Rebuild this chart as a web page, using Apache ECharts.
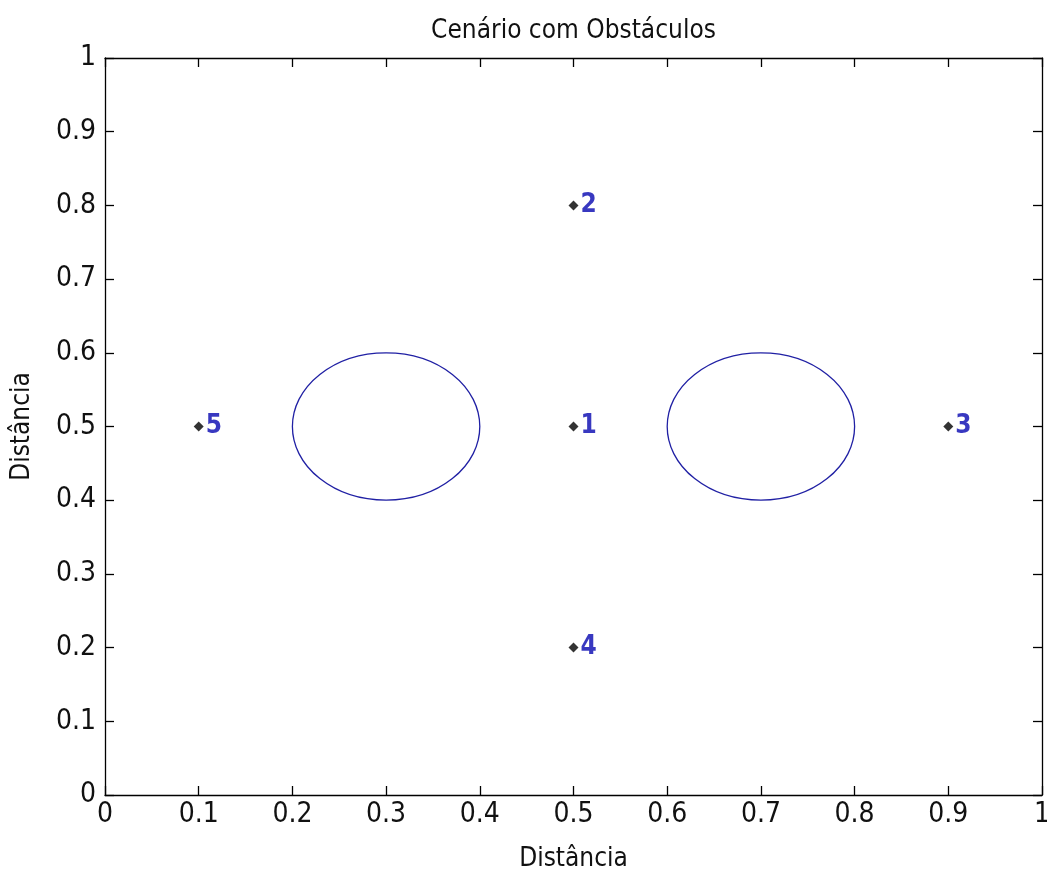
<!DOCTYPE html>
<html>
<head>
<meta charset="utf-8">
<script src="https://cdn.jsdelivr.net/npm/echarts@6/dist/echarts.min.js"></script>
<style>
  html, body { margin: 0; padding: 0; background: #ffffff; }
  #chart { width: 1047px; height: 870px; }
</style>
</head>
<body>
<div id="chart"></div>
<script>
// Waypoints (x, y) and their numeric labels
const pointX = [0.5, 0.5, 0.9, 0.5, 0.1];
const pointY = [0.5, 0.8, 0.5, 0.2, 0.5];
const pointLabels = ['1', '2', '3', '4', '5'];

// Circular obstacles: centre and radius in data units
const obstacleX = [0.3, 0.7];
const obstacleY = [0.5, 0.5];
const obstacleR = [0.1, 0.1];

const tickValues = [0, 0.1, 0.2, 0.3, 0.4, 0.5, 0.6, 0.7, 0.8, 0.9, 1];

const FONT = '"Liberation Sans Narrow", "DejaVu Sans Condensed", "Liberation Sans"';
const LABEL_BLUE = '#0606b0';
const LINE_BLUE = '#2020a4';

const GRID = { left: 105, right: 5, top: 58, bottom: 75 };
const CANVAS_W = 1047;
// horizontal centre of the plot area, used to centre the title over the axes
const plotCentreX = GRID.left + (CANVAS_W - GRID.left - GRID.right) / 2;

const points = pointX.map((x, i) => [x, pointY[i], pointLabels[i]]);
const obstacles = obstacleX.map((x, i) => [x, obstacleY[i], obstacleR[i]]);

function fmt(v) { return v === 0 ? '0' : v === 1 ? '1' : String(v); }

const baseAxis = {
  min: 0, max: 1, interval: 0.1,
  axisLine: { show: true, onZero: false, lineStyle: { color: '#000', width: 1.3 } },
  axisTick: { show: true, inside: true, length: 9, lineStyle: { color: '#000', width: 1.3 } },
  splitLine: { show: false },
  axisLabel: { color: '#111', fontFamily: FONT, fontSize: 28, formatter: fmt }
};

const chart = echarts.init(document.getElementById('chart'), null, { renderer: 'canvas' });

chart.setOption({
  backgroundColor: '#ffffff',
  animation: false,
  title: {
    text: 'Cenário com Obstáculos',
    left: plotCentreX, top: 18,
    textAlign: 'center',
    padding: 0,
    textStyle: { fontFamily: FONT, fontSize: 26, fontWeight: 'normal', color: '#111' }
  },
  grid: Object.assign({}, GRID, { containLabel: false, outerBoundsMode: 'none' }),
  xAxis: [
    Object.assign({}, baseAxis, {
      type: 'value', position: 'bottom',
      name: 'Distância', nameLocation: 'middle', nameGap: 51,
      nameTextStyle: { fontFamily: FONT, fontSize: 26, color: '#111' },
      axisLabel: Object.assign({}, baseAxis.axisLabel, { margin: 6 })
    }),
    Object.assign({}, baseAxis, {
      type: 'value', position: 'top',
      axisLabel: { show: false }
    })
  ],
  yAxis: [
    Object.assign({}, baseAxis, {
      type: 'value', position: 'left',
      name: 'Distância', nameLocation: 'middle', nameGap: 70,
      nameTextStyle: { fontFamily: FONT, fontSize: 26, color: '#111' },
      axisLabel: Object.assign({}, baseAxis.axisLabel, { margin: 9 })
    }),
    Object.assign({}, baseAxis, {
      type: 'value', position: 'right',
      axisLabel: { show: false }
    })
  ],
  series: [
    {
      type: 'custom',
      xAxisIndex: 0, yAxisIndex: 0,
      data: obstacles,
      renderItem: function (params, api) {
        const c = api.coord([api.value(0), api.value(1)]);
        const r = api.value(2);
        const s = api.size([r, r]);
        const rx = s[0], ry = s[1];
        const d = 'M ' + (c[0] - rx) + ' ' + c[1] +
          ' A ' + rx + ' ' + ry + ' 0 1 0 ' + (c[0] + rx) + ' ' + c[1] +
          ' A ' + rx + ' ' + ry + ' 0 1 0 ' + (c[0] - rx) + ' ' + c[1] + ' Z';
        return {
          type: 'path',
          shape: { pathData: d },
          style: { fill: 'none', stroke: LINE_BLUE, lineWidth: 1.3 }
        };
      },
      silent: true
    },
    {
      type: 'scatter',
      xAxisIndex: 0, yAxisIndex: 0,
      data: points,
      symbol: 'diamond',
      symbolSize: 10,
      itemStyle: { color: '#000' },
      label: {
        show: true, position: 'right', distance: 2,
        formatter: p => p.data[2],
        color: LABEL_BLUE, fontFamily: FONT, fontSize: 26, fontWeight: 'bold'
      },
      silent: true
    }
  ]
});
</script>
</body>
</html>
